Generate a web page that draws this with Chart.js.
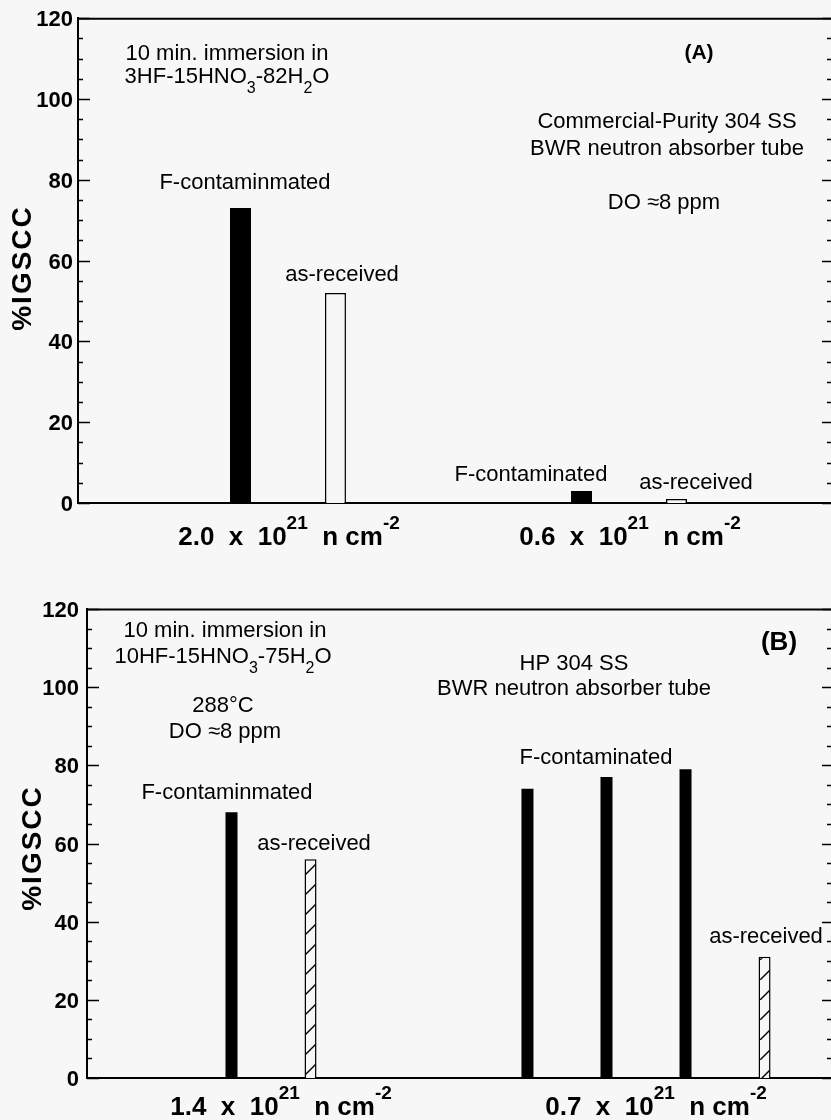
<!DOCTYPE html>
<html>
<head>
<meta charset="utf-8">
<script src="https://cdn.jsdelivr.net/npm/chart.js@4.4.1/dist/chart.umd.min.js"></script>
<style>
  html, body { margin: 0; padding: 0; background: #f7f7f7; }
  .panel { width: 831px; height: 560px; }
  canvas { display: block; }
</style>
</head>
<body>
<div class="panel"><canvas id="chartA" width="831" height="560"></canvas></div>
<div class="panel"><canvas id="chartB" width="831" height="560"></canvas></div>
<script>
// panel (A): commercial-purity 304 SS
const topLabels = ['2.0  x  10^{21}  n cm^{-2}', '0.6  x  10^{21}  n cm^{-2}'];
const topFContaminated = [73, 3];
const topAsReceived = [52, 1];

// panel (B): HP 304 SS, four bar slots per fluence (null = empty slot)
const bottomLabels = ['1.4  x  10^{21}  n cm^{-2}', '0.7  x  10^{21}  n cm^{-2}'];
const bottomSlot1 = [null, 74];
const bottomSlot2 = [68, 77];
const bottomSlot3 = [56, 79];
const bottomSlot4 = [null, 31];
// true where the slot holds an as-received specimen (others are F-contaminated)
const bottomSlot3AsReceived = [true, false];
const bottomSlot4AsReceived = [false, true];

const yTicks = { min: 0, max: 120, step: 20, minor: 5 };

const FONT = '"Liberation Sans", Arial, Helvetica, sans-serif';
const BG = '#f7f7f7';
Chart.defaults.color = '#000';
Chart.defaults.font.family = FONT;

// text with ^{sup} and _sub markup
function richParts(str) {
  const parts = [];
  const re = /([_^])(?:\{([^}]*)\}|(.))/g;
  let last = 0, m;
  while ((m = re.exec(str))) {
    if (m.index > last) parts.push({ t: str.slice(last, m.index), mode: 0 });
    parts.push({ t: m[2] !== undefined ? m[2] : m[3], mode: m[1] === '^' ? 1 : -1 });
    last = re.lastIndex;
  }
  if (last < str.length) parts.push({ t: str.slice(last), mode: 0 });
  return parts;
}

function drawRich(ctx, str, cx, base, size, weight) {
  const parts = richParts(str);
  const big = weight + ' ' + size + 'px ' + FONT;
  const small = weight + ' ' + Math.round(size * 0.72) + 'px ' + FONT;
  let total = 0;
  parts.forEach(p => {
    ctx.font = p.mode ? small : big;
    p.w = ctx.measureText(p.t).width;
    total += p.w;
  });
  let x = cx - total / 2;
  ctx.textAlign = 'left';
  ctx.textBaseline = 'alphabetic';
  parts.forEach(p => {
    ctx.font = p.mode ? small : big;
    const dy = p.mode === 1 ? -size * 0.6 : p.mode === -1 ? size * 0.45 : 0;
    ctx.fillText(p.t, x, base + dy);
    x += p.w;
  });
}

const decor = {
  id: 'decor',
  afterDatasetsDraw(chart, args, opts) {
    const ctx = chart.ctx, area = chart.chartArea;
    const xs = chart.scales.x, ys = chart.scales.y;
    ctx.save();
    ctx.strokeStyle = '#000';
    ctx.lineWidth = 2;
    ctx.beginPath();
    ctx.moveTo(area.left, area.top + 0.5);
    ctx.lineTo(area.right, area.top + 0.5);
    ctx.stroke();

    // inward tick marks on both sides
    ctx.lineWidth = 1.5;
    for (let v = yTicks.min; v <= yTicks.max; v += yTicks.minor) {
      const py = Math.round(ys.getPixelForValue(v)) + 0.5;
      const major = v % yTicks.step === 0;
      ctx.beginPath();
      ctx.moveTo(area.left, py);
      ctx.lineTo(area.left + (major ? 12 : 5), py);
      ctx.moveTo(area.right, py);
      ctx.lineTo(area.right - (major ? 9 : 4), py);
      ctx.stroke();
    }

    ctx.fillStyle = '#000';
    opts.groups.forEach((label, i) => {
      drawRich(ctx, label, xs.getPixelForValue(i) + opts.groupShift, opts.groupBase, 26, 'bold');
    });
    opts.notes.forEach(n => drawRich(ctx, n.text, n.x, n.y, n.size || 22, n.bold ? 'bold' : 'normal'));

    ctx.translate(opts.titleX, opts.titleY);
    ctx.rotate(-Math.PI / 2);
    ctx.font = 'bold 28px ' + FONT;
    ctx.letterSpacing = '2px';
    ctx.textAlign = 'center';
    ctx.textBaseline = 'middle';
    ctx.fillText('%IGSCC', 0, 0);
    ctx.restore();
  }
};

function points(values) {
  return values.map((v, i) => ({ x: i, y: v }));
}

function makeOptions(cfg) {
  return {
    responsive: false,
    animation: false,
    layout: { padding: { top: cfg.top, left: 0, right: 0, bottom: 0 } },
    plugins: { legend: { display: false }, tooltip: { enabled: false }, decor: cfg.decor },
    scales: {
      x: {
        type: 'linear', min: cfg.xMin, max: cfg.xMax, offset: false,
        grid: { display: false, drawTicks: false },
        ticks: { display: false },
        border: { display: true, color: '#000', width: 2 },
        afterBuildTicks: s => { s.ticks = [{ value: 0 }, { value: 1 }]; },
        afterFit: s => { s.height = cfg.xHeight; }
      },
      y: {
        min: yTicks.min, max: yTicks.max,
        grid: { display: false, drawTicks: false },
        border: { display: true, color: '#000', width: 2 },
        ticks: { stepSize: yTicks.step, padding: cfg.tickPad, labelOffset: 2, color: '#000',
                 font: { family: FONT, size: 22, weight: 'bold' } },
        afterFit: s => { s.width = cfg.yWidth; }
      }
    }
  };
}

// hatch fill for as-received bars of panel (B)
const ctxB = document.getElementById('chartB').getContext('2d');
const tile = document.createElement('canvas');
tile.width = 20; tile.height = 20;
const tg = tile.getContext('2d');
tg.fillStyle = BG;
tg.fillRect(0, 0, 20, 20);
tg.strokeStyle = '#000';
tg.lineWidth = 1.4;
tg.beginPath();
tg.moveTo(-2, 22); tg.lineTo(22, -2);
tg.stroke();
const hatch = ctxB.createPattern(tile, 'repeat');

const topBar = { categoryPercentage: 0.557, barPercentage: 0.221 };
new Chart(document.getElementById('chartA'), {
  type: 'bar',
  data: {
    datasets: [
      Object.assign({ label: 'F-contaminated', data: points(topFContaminated),
        backgroundColor: '#000', borderWidth: 0 }, topBar),
      Object.assign({ label: 'as-received', data: points(topAsReceived),
        backgroundColor: BG, borderColor: '#000', borderWidth: 1.5 }, topBar)
    ]
  },
  options: makeOptions({
    top: 18, xHeight: 57, yWidth: 78, tickPad: 5,
    xMin: -0.6158, xMax: 1.5924,
    decor: {
      groups: topLabels, groupShift: 1, groupBase: 545,
      titleX: 23, titleY: 268,
      notes: [
        { text: '10 min. immersion in', x: 227, y: 60 },
        { text: '3HF-15HNO_3-82H_2O', x: 227, y: 83 },
        { text: '(A)', x: 699, y: 59, bold: true, size: 21 },
        { text: 'Commercial-Purity 304 SS', x: 667, y: 128 },
        { text: 'BWR neutron absorber tube', x: 667, y: 155 },
        { text: 'DO \u22488 ppm', x: 664, y: 209 },
        { text: 'F-contaminmated', x: 245, y: 189 },
        { text: 'as-received', x: 342, y: 281 },
        { text: 'F-contaminated', x: 531, y: 481 },
        { text: 'as-received', x: 696, y: 489 }
      ]
    }
  }),
  plugins: [decor]
});

const bottomBar = { categoryPercentage: 0.843, barPercentage: 0.152 };
function slot(values, asReceived) {
  const ar = i => asReceived ? asReceived[i] : false;
  return Object.assign({
    data: points(values),
    backgroundColor: c => ar(c.dataIndex) ? hatch : '#000',
    borderColor: '#000',
    borderWidth: c => ar(c.dataIndex) ? 1.5 : 0
  }, bottomBar);
}
new Chart(ctxB, {
  type: 'bar',
  data: {
    datasets: [
      slot(bottomSlot1),
      slot(bottomSlot2),
      slot(bottomSlot3, bottomSlot3AsReceived),
      slot(bottomSlot4, bottomSlot4AsReceived)
    ]
  },
  options: makeOptions({
    top: 49, xHeight: 42, yWidth: 87, tickPad: 8,
    xMin: -0.4907, xMax: 1.4933,
    decor: {
      groups: bottomLabels, groupShift: 10, groupBase: 555,
      titleX: 33, titleY: 288,
      notes: [
        { text: '10 min. immersion in', x: 225, y: 77 },
        { text: '10HF-15HNO_3-75H_2O', x: 223, y: 103 },
        { text: '288\u00B0C', x: 223, y: 152 },
        { text: 'DO \u22488 ppm', x: 225, y: 178 },
        { text: 'F-contaminmated', x: 227, y: 239 },
        { text: '(B)', x: 779, y: 90, bold: true, size: 26 },
        { text: 'HP 304 SS', x: 574, y: 110 },
        { text: 'BWR neutron absorber tube', x: 574, y: 135 },
        { text: 'F-contaminated', x: 596, y: 204 },
        { text: 'as-received', x: 314, y: 290 },
        { text: 'as-received', x: 766, y: 383 }
      ]
    }
  }),
  plugins: [decor]
});
</script>
</body>
</html>
